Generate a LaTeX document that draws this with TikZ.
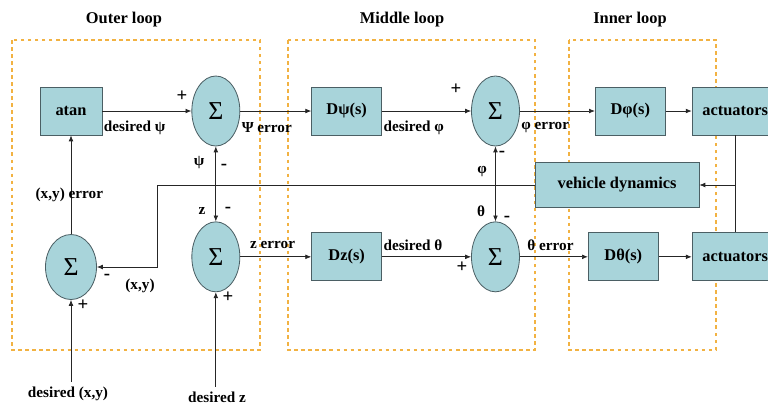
\documentclass[tikz,border=0pt]{standalone}
\usepackage{fontspec}
\setmainfont{Liberation Serif}
\usetikzlibrary{calc,positioning,arrows.meta,shapes}

\definecolor{boxfill}{RGB}{168,212,218}
\definecolor{boxline}{RGB}{75,95,100}
\definecolor{loopline}{RGB}{242,178,66}

\tikzset{
  block/.style={draw=boxline, fill=boxfill, line width=0.7pt, minimum width=2.1cm, minimum height=1.44cm, inner sep=1pt, font=\bfseries\fontsize{14}{16}\selectfont},
  sumnode/.style={draw=boxline, fill=boxfill, line width=0.7pt, ellipse, minimum width=1.44cm, minimum height=2.1cm, inner sep=0pt, font=\fontsize{22}{24}\selectfont},
  loopbox/.style={draw=loopline, dashed, line width=0.9pt},
  wire/.style={draw=black!85, line width=0.6pt},
  lbl/.style={font=\bfseries\fontsize{13}{15}\selectfont, inner sep=1pt},
  sign/.style={font=\bfseries\fontsize{16}{18}\selectfont, inner sep=1pt},
  looptitle/.style={font=\bfseries\fontsize{14}{16}\selectfont, inner sep=1pt},
}

\begin{document}
\begin{tikzpicture}[x=0.03cm, y=-0.03cm, >={Latex[length=5pt,width=4pt]}]
    \useasboundingbox[fill=white] (0,0) rectangle (768,408);

    % loop frames
    \draw[loopbox] (12,40) rectangle (260,350);
    \draw[loopbox] (288,40) rectangle (535,350);
    \draw[loopbox] (569,40) rectangle (716,350);
    \node[looptitle] (title_outer) at (124,20) {Outer loop};
    \node[looptitle] (title_middle) at (402,20) {Middle loop};
    \node[looptitle] (title_inner) at (630,20) {Inner loop};

    % top row
    \node[block, minimum width=1.86cm] (atan) at (71,111) {atan};
    \node[sumnode, right=2.67cm of atan] (sum_psi) {Σ};
    \node[block, right=2.13cm of sum_psi] (d_psi) {Dψ(s)};
    \node[sumnode, right=2.67cm of d_psi] (sum_phi) {Σ};
    \node[block, right=2.25cm of sum_phi] (d_phi) {Dφ(s)};
    \node[block, minimum width=2.58cm, right=0.78cm of d_phi] (act_phi) {actuators};

    % bottom row
    \node[sumnode, below=2.25cm of sum_psi] (sum_z) {Σ};
    \node[block, right=2.13cm of sum_z] (d_z) {Dz(s)};
    \node[sumnode, below=2.25cm of sum_phi] (sum_theta) {Σ};
    \node[block, right=2.04cm of sum_theta] (d_theta) {Dθ(s)};
    \node[block, minimum width=2.58cm, below=2.91cm of act_phi] (act_theta) {actuators};
    \node[sumnode, minimum width=1.53cm, minimum height=1.95cm] (sum_xy) at (71,267) {Σ};
    \node[block, minimum width=4.92cm, minimum height=1.35cm] (vehicle) at (617,185) {vehicle dynamics};

    % inputs
    \node[lbl, inner sep=4pt] (desired_xy) at (68,394) {desired (x,y)};
    \node[lbl, inner sep=4pt] (desired_z) at (217,397) {desired z};

    % forward paths
    \draw[wire,->] (atan) -- node[lbl, anchor=west, pos=0, yshift=-0.5cm] {desired ψ} (sum_psi);
    \draw[wire,->] (sum_psi) -- node[lbl, anchor=west, pos=0, yshift=-0.5cm] {Ψ error} (d_psi);
    \draw[wire,->] (d_psi) -- node[lbl, anchor=west, pos=0, yshift=-0.5cm] {desired φ} (sum_phi);
    \draw[wire,->] (sum_phi) -- node[lbl, anchor=west, pos=0, yshift=-0.5cm] {φ error} (d_phi);
    \draw[wire,->] (d_phi) -- (act_phi);
    \draw[wire,->] (sum_z) -- node[lbl, anchor=west, pos=0, xshift=0.25cm, yshift=0.36cm] {z error} (d_z);
    \draw[wire,->] (d_z) -- node[lbl, anchor=west, pos=0, yshift=0.36cm] {desired θ} (sum_theta);
    \draw[wire,->] (sum_theta) -- node[lbl, anchor=west, pos=0, xshift=0.18cm, yshift=0.36cm] {θ error} (d_theta);
    \draw[wire,->] (d_theta) -- (act_theta);
    \draw[wire,->] (sum_xy) -- node[lbl, pos=0.4, xshift=-0.05cm] {(x,y) error} (atan);
    \draw[wire,->] (desired_xy.north -| sum_xy) -- (sum_xy);
    \draw[wire,->] (desired_z.north -| sum_z) -- (sum_z);

    % feedback paths
    \coordinate (fb_turn) at (157,185);
    \draw[wire] (act_phi) -- (act_theta);
    \draw[wire,->] (act_phi |- vehicle) -- (vehicle);
    \draw[wire,->] (vehicle) -- (fb_turn) |- (sum_xy);
    \draw[wire,<->] (sum_psi) -- (sum_z);
    \draw[wire,<->] (sum_phi) -- (sum_theta);

    % signs and feedback names
    \node[sign] (plus_psi) at (182,96) {+};
    \node[lbl] (psi_fb) at (199,163) {ψ};
    \node[sign] (minus_psi) at (224,167) {-};
    \node[lbl] (z_fb) at (202,211) {z};
    \node[sign] (minus_z) at (228,210) {-};
    \node[sign] (plus_z) at (228,297) {+};
    \node[sign] (minus_xy) at (107,277) {-};
    \node[sign] (plus_xy) at (83,305) {+};
    \node[lbl] (xy_fb) at (140,286) {(x,y)};
    \node[sign] (plus_phi) at (456,89) {+};
    \node[sign] (minus_phi) at (502,154) {-};
    \node[lbl] (phi_fb) at (482,172) {φ};
    \node[lbl] (theta_fb) at (481,211) {θ};
    \node[sign] (minus_theta) at (507,219) {-};
    \node[sign] (plus_theta) at (462,267) {+};
\end{tikzpicture}
\end{document}
